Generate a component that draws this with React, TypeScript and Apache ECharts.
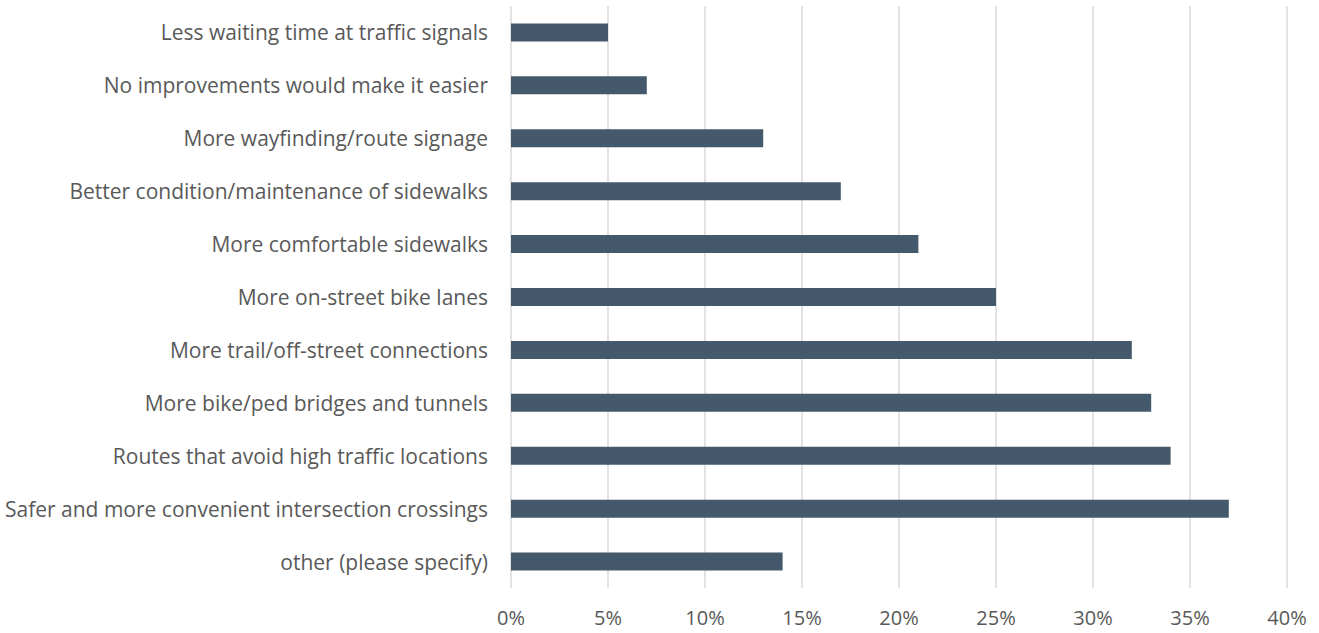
import React, { useEffect, useRef } from "react";
import * as echarts from "echarts";

const categories = [
  "other (please specify)",
  "Safer and more convenient intersection crossings",
  "Routes that avoid high traffic locations",
  "More bike/ped bridges and tunnels",
  "More trail/off-street connections",
  "More on-street bike lanes",
  "More comfortable sidewalks",
  "Better condition/maintenance of sidewalks",
  "More wayfinding/route signage",
  "No improvements would make it easier",
  "Less waiting time at traffic signals",
];
const values = [14, 37, 34, 33, 32, 25, 21, 17, 13, 7, 5];
const xTicks = { min: 0, max: 40, interval: 5 };

export default function App() {
  const ref = useRef<HTMLDivElement>(null);
  useEffect(() => {
    if (!ref.current) return;
    const chart = echarts.init(ref.current, null, { renderer: "svg" });
    const font = "'Open Sans', Lato, sans-serif";
    chart.setOption({
      animation: false,
      grid: { left: 511, right: 32, top: 6, bottom: 45, containLabel: false },
      xAxis: {
        type: "value",
        min: xTicks.min,
        max: xTicks.max,
        interval: xTicks.interval,
        axisLine: { show: false },
        axisTick: { show: false },
        axisLabel: {
          formatter: (v: number) => v + "%",
          color: "#595959",
          fontSize: 20,
          fontFamily: font,
          margin: 19,
        },
        splitLine: { show: true, lineStyle: { color: "#D9D9D9", width: 1.5 } },
      },
      yAxis: {
        type: "category",
        data: categories,
        axisLine: { show: false },
        axisTick: { show: false },
        axisLabel: {
          color: "#595959",
          fontSize: 21,
          fontFamily: font,
          margin: 23,
        },
      },
      series: [
        {
          type: "bar",
          data: values,
          barWidth: 18,
          itemStyle: { color: "#44596B" },
        },
      ],
    });
    return () => chart.dispose();
  }, []);
  return <div ref={ref} style={{ width: 1319, height: 633, position: "absolute", left: 0, top: 0 }} />;
}
